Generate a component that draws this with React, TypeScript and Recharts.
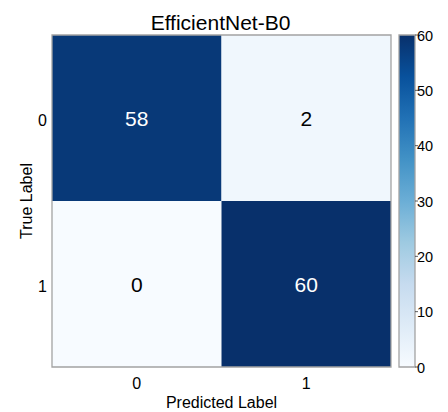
import React from 'react';
import { ComposedChart, XAxis, YAxis, ReferenceArea, Scatter, BarChart, Bar } from 'recharts';

const title = 'EfficientNet-B0';
const xAxisTitle = 'Predicted Label';
const yAxisTitle = 'True Label';
const predictedLabels = ['0', '1'];
const trueLabels = ['0', '1'];
const row0 = [58, 2];
const row1 = [0, 60];
const colorbarMax = 60;
const colorbarTicks = [0, 10, 20, 30, 40, 50, 60];
const colorbarMinorTicks = [0, 2, 4, 6, 8, 10, 12, 14, 16, 18, 20, 22, 24, 26, 28, 30, 32, 34, 36, 38, 40, 42, 44, 46, 48, 50, 52, 54, 56, 58, 60];
const colorbarData = [{ name: 'cb', v: 60 }];

const BLUES = ['#f7fbff', '#deebf7', '#c6dbef', '#9ecae1', '#6baed6', '#4292c6', '#2171b5', '#08519c', '#08306b'];

function hexToRgb(h: string) {
  const n = parseInt(h.slice(1), 16);
  return [(n >> 16) & 255, (n >> 8) & 255, n & 255];
}
function blues(t: number) {
  const c = Math.max(0, Math.min(1, t)) * (BLUES.length - 1);
  const i = Math.min(BLUES.length - 2, Math.floor(c));
  const f = c - i;
  const a = hexToRgb(BLUES[i]);
  const b = hexToRgb(BLUES[i + 1]);
  const r = a.map((v, k) => Math.round(v + (b[k] - v) * f));
  return `rgb(${r[0]},${r[1]},${r[2]})`;
}

const matrix = [row0, row1];
const cells = matrix.flatMap((row, i) => row.map((v, j) => ({ x: j, y: i, v })));

const FONT = '"Liberation Sans", Arial, Helvetica, sans-serif';
const FRAME = '#a3a3a3';

const XTick = (p: any) => (
  <text x={p.x} y={p.y} dy="0.72em" textAnchor="middle" fontSize={16} fill="#000">
    {predictedLabels[p.payload.value]}
  </text>
);
const YTick = (p: any) => (
  <text x={p.x} y={p.y} dy="0.5em" textAnchor="end" fontSize={16} fill="#000">
    {trueLabels[p.payload.value]}
  </text>
);
const CTick = (p: any) => (
  <text x={p.x - 1} y={p.y} dy="0.38em" textAnchor="start" fontSize={14.5} fill="#000">
    {p.payload.value}
  </text>
);

const CellLabel = (p: any) => {
  const vb = p.viewBox;
  const v = Number(p.value);
  return (
    <text
      x={vb.x + vb.width / 2}
      y={vb.y + vb.height / 2}
      dy="0.36em"
      textAnchor="middle"
      fontSize={21}
      fill={v > colorbarMax / 2 ? '#fff' : '#000'}
    >
      {p.value}
    </text>
  );
};

export default function App() {
  return (
    <div style={{ position: 'absolute', left: 0, top: 0, width: 448, height: 412, fontFamily: FONT, background: '#fff' }}>
      <svg width={0} height={0} style={{ position: 'absolute' }}>
        <defs>
          <linearGradient id="cbGrad" x1="0" y1="0" x2="0" y2="1">
            {BLUES.slice().reverse().map((c, k) => (
              <stop key={k} offset={`${(k / (BLUES.length - 1)) * 100}%`} stopColor={c} />
            ))}
          </linearGradient>
        </defs>
      </svg>
      <div style={{ position: 'absolute', left: 0, top: 0 }}>
        <ComposedChart width={448} height={412} margin={{ top: 35, right: 57, bottom: 0, left: 0 }} data={cells}>
          <XAxis
            type="number"
            dataKey="x"
            domain={[-0.5, 1.5]}
            ticks={[0, 1]}
            height={45}
            axisLine={false}
            tickLine={false}
            tickSize={6}
            tickMargin={4}
            tick={<XTick />}
            label={{
              content: (p: any) => {
                const vb = p.viewBox;
                return (
                  <text x={vb.x + vb.width / 2} y={408} textAnchor="middle" fontSize={16} fill="#000">
                    {xAxisTitle}
                  </text>
                );
              },
            }}
          />
          <YAxis
            type="number"
            dataKey="y"
            domain={[-0.5, 1.5]}
            reversed
            ticks={[0, 1]}
            width={52}
            axisLine={false}
            tickLine={false}
            tickSize={4}
            tickMargin={1}
            tick={<YTick />}
            label={{
              content: (p: any) => {
                const vb = p.viewBox;
                const cx = 28;
                const cy = vb.y + vb.height / 2;
                return (
                  <text x={cx} y={cy} textAnchor="middle" dominantBaseline="middle" fontSize={16} fill="#000" transform={`rotate(-90 ${cx} ${cy})`}>
                    {yAxisTitle}
                  </text>
                );
              },
            }}
          />
          {cells.map((c) => (
            <ReferenceArea
              key={`${c.x}-${c.y}`}
              x1={c.x - 0.5}
              x2={c.x + 0.5}
              y1={c.y - 0.5}
              y2={c.y + 0.5}
              fill={blues(c.v / colorbarMax)}
              fillOpacity={1}
              stroke="none"
              ifOverflow="visible"
              label={{ value: String(c.v), content: CellLabel }}
            />
          ))}
          <ReferenceArea
            x1={-0.5}
            x2={1.5}
            y1={-0.5}
            y2={1.5}
            fill="none"
            fillOpacity={0}
            stroke={FRAME}
            strokeWidth={1.3}
            ifOverflow="visible"
            label={{
              content: (p: any) => {
                const vb = p.viewBox;
                return (
                  <text x={vb.x + vb.width / 2 - 1} y={30} textAnchor="middle" fontSize={21} fill="#000">
                    {title}
                  </text>
                );
              },
            }}
          />
          <Scatter dataKey="y" isAnimationActive={false} shape={() => <g />} />
        </ComposedChart>
      </div>
      <div style={{ position: 'absolute', left: 0, top: 0 }}>
        <BarChart width={448} height={412} margin={{ top: 35, right: 0, bottom: 45, left: 399 }} data={colorbarData} barCategoryGap={0}>
          <XAxis dataKey="name" hide />
          <YAxis
            yAxisId="minor"
            orientation="right"
            type="number"
            domain={[0, colorbarMax]}
            ticks={colorbarMinorTicks}
            interval={0}
            width={0}
            axisLine={false}
            tick={false}
            tickSize={2}
            tickLine={{ stroke: '#333', strokeWidth: 0.8 }}
          />
          <YAxis
            yAxisId="major"
            orientation="right"
            type="number"
            domain={[0, colorbarMax]}
            ticks={colorbarTicks}
            interval={0}
            width={33}
            axisLine={false}
            tickSize={3}
            tickMargin={0}
            tickLine={{ stroke: '#333', strokeWidth: 0.8 }}
            tick={<CTick />}
          />
          <Bar yAxisId="major" dataKey="v" fill="url(#cbGrad)" stroke={FRAME} strokeWidth={1.3} isAnimationActive={false} />
        </BarChart>
      </div>
    </div>
  );
}
